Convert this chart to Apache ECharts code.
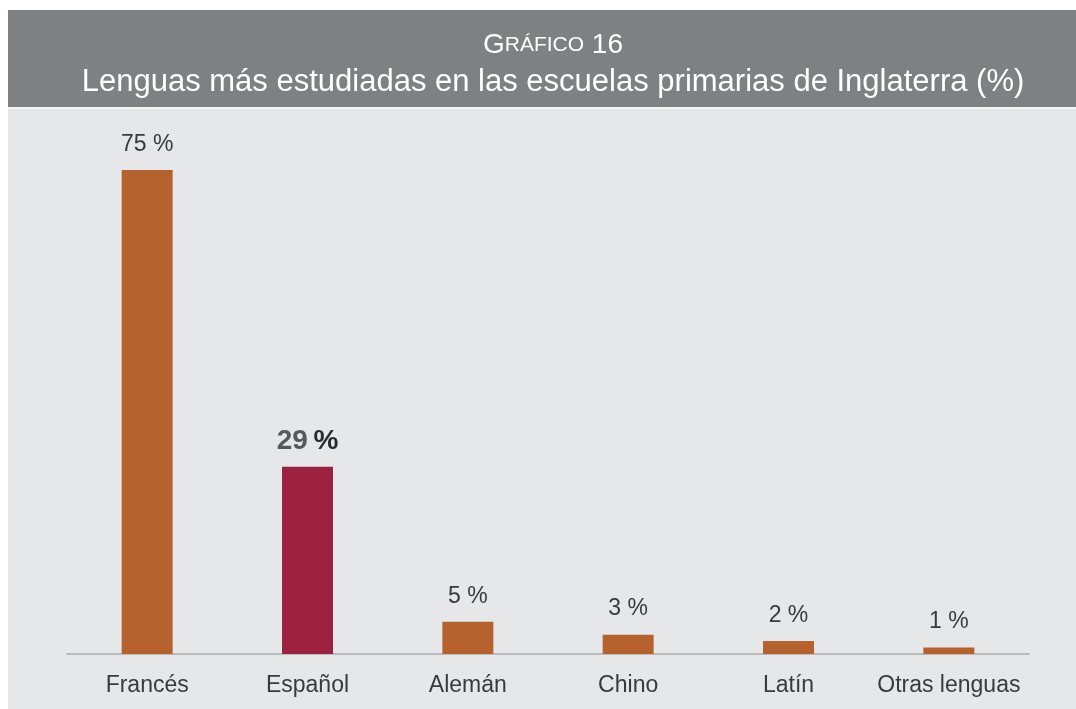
<!DOCTYPE html>
<html>
<head>
<meta charset="utf-8">
<script src="https://cdn.jsdelivr.net/npm/echarts@6/dist/echarts.min.js"></script>
<style>
  html, body { margin: 0; padding: 0; background: #ffffff; }
  #chart { width: 1076px; height: 709px; }
</style>
</head>
<body>
<div id="chart"></div>
<script>
// datos del gráfico
var categories = ['Francés', 'Español', 'Alemán', 'Chino', 'Latín', 'Otras lenguas'];
var values = [75, 29, 5, 3, 2, 1];
var highlight = 'Español';

var orange = '#b5622e';
var crimson = '#9c2140';
var font = '"Liberation Sans", Arial, sans-serif';

var chart = echarts.init(document.getElementById('chart'));

var seriesData = categories.map(function (c, i) {
  var isHi = c === highlight;
  return {
    value: values[i],
    itemStyle: { color: isHi ? crimson : orange },
    label: isHi ? {
      distance: 12,
      formatter: '{n|' + values[i] + '}{p|\u2009%}',
      rich: {
        n: { fontFamily: font, fontSize: 28, fontWeight: 'bold', color: '#58585a' },
        p: { fontFamily: font, fontSize: 28, fontWeight: 'bold', color: '#2b2b2b' }
      }
    } : {}
  };
});

chart.setOption({
  backgroundColor: '#ffffff',
  graphic: [
    { type: 'rect', z: -10, shape: { x: 8, y: 10, width: 1068, height: 699 }, style: { fill: '#e6e7e9' } },
    { type: 'rect', z: -9, shape: { x: 8, y: 10, width: 1068, height: 97 }, style: { fill: '#7f8084' } },
    { type: 'rect', z: -9, shape: { x: 8, y: 107, width: 1068, height: 2 }, style: { fill: '#f4f4f5' } }
  ],
  title: [
    {
      text: '{b|G}{s|RÁFICO}{b| 16}',
      left: 548, top: 26, textAlign: 'center',
      textStyle: {
        fontWeight: 'normal',
        rich: {
          b: { fontFamily: font, fontSize: 28, fontWeight: 'normal', color: '#ffffff' },
          s: { fontFamily: font, fontSize: 21, fontWeight: 'normal', color: '#ffffff' }
        }
      }
    },
    {
      text: 'Lenguas más estudiadas en las escuelas primarias de Inglaterra (%)',
      left: 548, top: 62, textAlign: 'center',
      textStyle: { fontFamily: font, fontSize: 31, fontWeight: 'normal', color: '#ffffff' }
    }
  ],
  grid: { left: 67, right: 47, top: 170, bottom: 55 },
  xAxis: {
    type: 'category',
    data: categories,
    axisLine: { lineStyle: { color: '#bcbcbe', width: 2 } },
    axisTick: { show: false },
    axisLabel: { interval: 0, fontFamily: font, fontSize: 23, color: '#3a3a3a', margin: 20 }
  },
  yAxis: {
    type: 'value',
    min: 0, max: 75,
    show: false,
    splitLine: { show: false }
  },
  series: [{
    type: 'bar',
    data: seriesData,
    barWidth: 51,
    label: {
      show: true,
      position: 'top',
      distance: 14,
      formatter: '{c} %',
      fontFamily: font,
      fontSize: 23,
      color: '#3a3a3a'
    }
  }]
});
</script>
</body>
</html>
